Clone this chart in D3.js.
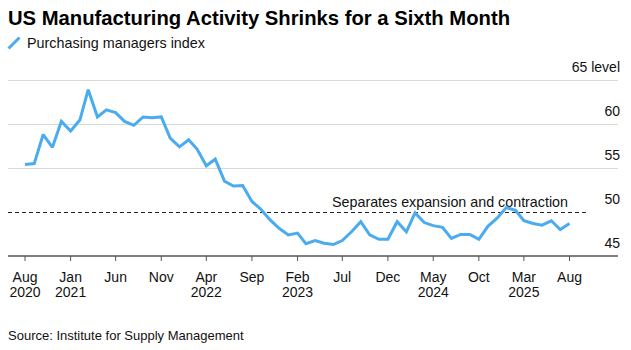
<!DOCTYPE html>
<html><head><meta charset="utf-8">
<script src="https://cdn.jsdelivr.net/npm/d3@7"></script>
<style>
html,body{margin:0;padding:0;background:#fff;}
svg{display:block;font-family:"Liberation Sans",Arial,sans-serif;}
</style></head>
<body><svg id="c" width="631" height="350"></svg>
<script>
const title = "US Manufacturing Activity Shrinks for a Sixth Month";
const seriesName = "Purchasing managers index";
const source = "Source: Institute for Supply Management";
const annotation = "Separates expansion and contraction";
const startMonth = "2020-08";
const pmi = [
  55.4, 55.5, 58.8, 57.35, 60.3,
  59.2, 60.45, 63.9, 60.8, 61.6, 61.3, 60.3, 59.85, 60.8, 60.7, 60.8, 58.4,
  57.4, 58.2, 57.15, 55.25, 56.0, 53.5, 52.95, 53.0, 51.2, 50.3, 49.1, 48.15,
  47.4, 47.6, 46.4, 46.75, 46.45, 46.3, 46.75, 47.75, 48.9, 47.4, 46.9, 46.9,
  48.9, 47.75, 49.9, 48.8, 48.45, 48.25, 47.0, 47.45, 47.45, 46.9, 48.4, 49.3,
  50.5, 50.2, 49.0, 48.7, 48.5, 49.0, 48.0, 48.7
];
const yTicks = [45, 50, 55, 60, 65];
const gridValues = [55, 60, 65];
const threshold = 50;
const xTickStep = 5;

const parse = d3.utcParse("%Y-%m");
const t0 = parse(startMonth);
const data = pmi.map((v, i) => ({date: d3.utcMonth.offset(t0, i), value: v}));

const svg = d3.select("#c");
const x = d3.scaleUtc().domain([data[0].date, data[data.length-1].date]).range([25, 569.5]);
const y = d3.scaleLinear().domain([45, 65]).range([256, 80]);
const left = 8, right = 618;
const lineColor = "#4aabee";

// title
svg.append("text").attr("x", 8).attr("y", 25)
  .attr("font-size", 21).attr("font-weight", 700).attr("fill", "#000")
  .attr("textLength", 502).attr("lengthAdjust", "spacingAndGlyphs").text(title);

// legend
svg.append("line").attr("x1", 8.5).attr("y1", 48.5).attr("x2", 19.5).attr("y2", 37.5)
  .attr("stroke", lineColor).attr("stroke-width", 3);
svg.append("text").attr("x", 27).attr("y", 48).attr("font-size", 14.3).attr("fill", "#111")
  .attr("textLength", 178).attr("lengthAdjust", "spacingAndGlyphs").text(seriesName);

// gridlines
svg.append("g").selectAll("line").data(gridValues).join("line")
  .attr("x1", left).attr("x2", right).attr("y1", d => y(d)+0.5).attr("y2", d => y(d)+0.5)
  .attr("stroke", "#d9d9d9").attr("stroke-width", 1);

// y labels
svg.append("g").selectAll("text").data(yTicks).join("text")
  .attr("x", 620).attr("y", d => y(d) - 8).attr("text-anchor", "end")
  .attr("font-size", 14).attr("fill", "#111")
  .text(d => d === 65 ? "65 level" : d);

// threshold dashed line
svg.append("line").attr("x1", left).attr("x2", 588).attr("y1", y(threshold)+0.5).attr("y2", y(threshold)+0.5)
  .attr("stroke", "#222").attr("stroke-width", 1).attr("stroke-dasharray", "4,3");
svg.append("text").attr("x", 332).attr("y", 207).attr("font-size", 14.3).attr("fill", "#111")
  .attr("textLength", 236).attr("lengthAdjust", "spacingAndGlyphs").text(annotation);

// x axis
const tickDates = d3.range(0, pmi.length, xTickStep).map(i => data[i].date);
const ax = svg.append("g").attr("transform", `translate(0,${y(45)})`);
ax.append("line").attr("x1", left).attr("x2", right).attr("y1", 0).attr("y2", 0)
  .attr("stroke", "#555").attr("stroke-width", 1.5);
const fmtM = d3.utcFormat("%b"), fmtY = d3.utcFormat("%Y");
let lastYear = null;
tickDates.forEach(d => {
  const g = ax.append("g").attr("transform", `translate(${x(d)},0)`);
  g.append("line").attr("y1", 0).attr("y2", 5).attr("stroke", "#555").attr("stroke-width", 1);
  g.append("text").attr("y", 26).attr("text-anchor", "middle").attr("font-size", 14).attr("fill", "#111").text(fmtM(d));
  const yr = fmtY(d);
  if (yr !== lastYear) {
    g.append("text").attr("y", 41).attr("text-anchor", "middle").attr("font-size", 14).attr("fill", "#111").text(yr);
    lastYear = yr;
  }
});

// line
svg.append("path").datum(data)
  .attr("fill", "none").attr("stroke", lineColor).attr("stroke-width", 3)
  .attr("stroke-linejoin", "miter").attr("stroke-miterlimit", 2)
  .attr("d", d3.line().x(d => x(d.date)).y(d => y(d.value)));

// source
svg.append("text").attr("x", 8).attr("y", 340).attr("font-size", 13).attr("fill", "#111").text(source);
</script></body></html>
